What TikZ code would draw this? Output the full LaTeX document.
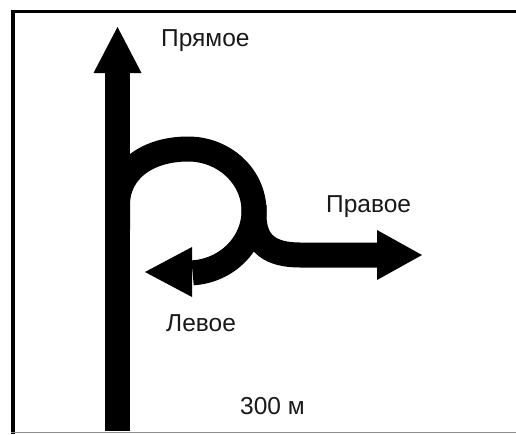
\documentclass[tikz,border=0pt]{standalone}
\usepackage{fontspec}
\setmainfont{Liberation Sans}
\begin{document}
\begin{tikzpicture}[x=1pt,y=-1pt,
  road/.style={line width=25pt},
  arrowhead/.style={fill=black},
  frameline/.style={line width=3.5pt},
  lbl/.style={anchor=base west, inner sep=0pt, text=black!90, font=\fontsize{24.5}{28}\selectfont}]
\useasboundingbox (0,0) rectangle (516,434);
% frame
\draw[frameline] (13,434) -- (13,11.3) -- (516,11.3);
\draw[black!45, line width=1.5pt] (11,432.5) -- (516,432.5);
% straight road with arrow
\draw[road] (117.5,72) -- (117.5,431);
\fill[arrowhead] (93.5,73) -- (141.5,73) -- (117.5,27) -- cycle;
% loop
\draw[road] (117.5,230) -- (117.5,205) .. controls (117.5,170) and (148,149) .. (188,149)
  arc[start angle=270, end angle=446, x radius=66, y radius=62];
\fill[arrowhead] (192,247) -- (192,297) -- (145,272) -- cycle;
% right branch
\draw[road] (254,205) -- (254,215) .. controls (254,245) and (272,255) .. (300,255) -- (378,255);
\fill[arrowhead] (377,230) -- (377,280) -- (422,255) -- cycle;
% labels
\node[lbl] (straight) at (161,46) {Прямое};
\node[lbl] (right) at (326,212.3) {Правое};
\node[lbl] (left) at (166,331.7) {Левое};
\node[lbl] (dist) at (240,414) {300 м};
\end{tikzpicture}
\end{document}
